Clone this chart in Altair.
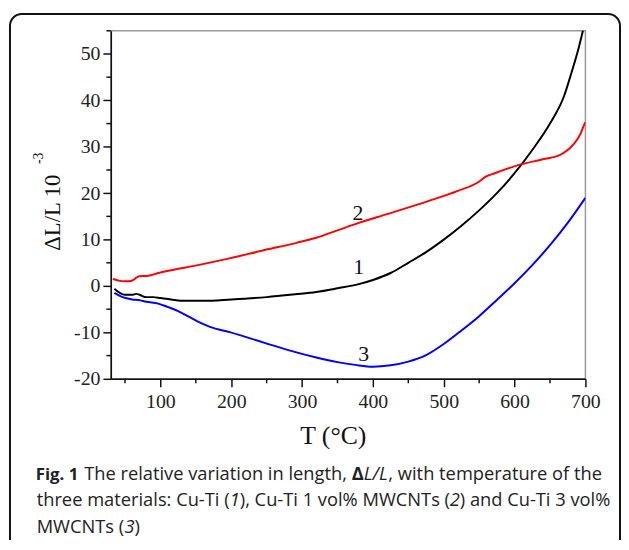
import altair as alt
import pandas as pd

# ---- data ----
T1 = [35, 40, 50, 60, 66, 72, 80, 90, 100, 115, 135, 160, 200, 250, 290, 320, 350, 380, 400, 425, 450, 475, 500, 525, 550, 575, 600, 625, 650, 670, 680, 690, 698]
V1 = [-0.6, -1.2, -1.9, -1.9, -1.7, -2.0, -2.4, -2.4, -2.6, -2.9, -3.2, -3.2, -2.9, -2.4, -1.8, -1.3, -0.5, 0.4, 1.3, 2.8, 5.0, 7.3, 10.0, 13.0, 16.3, 20.0, 24.3, 29.3, 35.0, 41.0, 45.8, 51.0, 56.0]

T2 = [33, 40, 45, 55, 62, 66, 70, 83, 97, 115, 153, 199, 246, 292, 320, 350, 380, 420, 478, 520, 548, 560, 572, 609, 640, 665, 683, 693, 697, 700]
V2 = [1.5, 1.2, 1.05, 1.0, 1.3, 1.8, 2.1, 2.2, 2.8, 3.4, 4.5, 6.0, 7.7, 9.3, 10.4, 12.0, 13.6, 15.5, 18.3, 20.5, 22.3, 23.6, 24.3, 26.2, 27.3, 28.3, 30.5, 32.8, 34.3, 35.3]

T3 = [35, 45, 51, 60, 69, 80, 97, 110, 125, 140, 153, 170, 199, 246, 292, 320, 350, 375, 400, 425, 450, 475, 500, 525, 550, 575, 600, 625, 650, 675, 700]
V3 = [-1.5, -2.3, -2.6, -2.9, -3.0, -3.4, -3.8, -4.5, -5.4, -6.6, -7.7, -8.8, -10.0, -12.2, -14.3, -15.4, -16.4, -17.0, -17.4, -17.1, -16.3, -14.9, -12.5, -9.6, -6.5, -3.0, 0.6, 4.5, 8.8, 13.6, 19.0]

SERIES = ["1", "2", "3"]
COLORS = ["#000000", "#ff0000", "#0000ff"]

LABEL_T = [380, 379, 387]
LABEL_V = [4.0, 15.8, -14.7]

X_MAJOR = [100, 200, 300, 400, 500, 600, 700]
X_MINOR = [50, 150, 250, 350, 450, 550, 650]
Y_MAJOR = [-20, -10, 0, 10, 20, 30, 40, 50]
Y_MINOR = [-15, -5, 5, 15, 25, 35, 45, 55]

CAPTION_LINES = [
    [("Fig. 1", "b"), ("The relative variation in length, ", "r"), ("Δ", "b"), ("L/L", "i"), (", with temperature of the", "r")],
    [("three materials: Cu-Ti (", "r"), ("1", "i"), ("), Cu-Ti 1 vol% MWCNTs (", "r"), ("2", "i"), (") and Cu-Ti 3 vol%", "r")],
    [("MWCNTs (", "r"), ("3", "i"), (")", "r")],
]

rows = []
for s, ts, vs in zip(SERIES, [T1, T2, T3], [V1, V2, V3]):
    for i, (t, v) in enumerate(zip(ts, vs)):
        rows.append({"T": t, "V": v, "s": s, "o": i})
df = pd.DataFrame(rows)
lab = pd.DataFrame({"T": LABEL_T, "V": LABEL_V, "s": SERIES})

xsc = alt.Scale(domain=[30, 700], nice=False, zero=False)
ysc = alt.Scale(domain=[-20, 55], nice=False, zero=False)

SERIF = "Liberation Serif"
SANS = "Open Sans"
AX = "#111"

xaxis = alt.Axis(values=X_MAJOR, title=None, grid=False, labelOverlap=False, labelFlush=False,
                 format="d", tickSize=8,
                 labelFont=SERIF, labelFontSize=20, labelColor="#222", labelPadding=5,
                 domainColor=AX, domainWidth=1.5, tickColor=AX, tickWidth=1.5)
yaxis = alt.Axis(values=Y_MAJOR, title=None, grid=False, labelOverlap=False, labelFlush=False,
                 labelExpr="'' + datum.value", tickSize=8,
                 labelFont=SERIF, labelFontSize=20, labelColor="#222", labelPadding=3,
                 domainColor=AX, domainWidth=1.5, tickColor=AX, tickWidth=1.5)

lines = alt.Chart(df).mark_line(strokeWidth=2, clip=True, interpolate="monotone").encode(
    x=alt.X("T:Q", scale=xsc, axis=xaxis),
    y=alt.Y("V:Q", scale=ysc, axis=yaxis),
    color=alt.Color("s:N", scale=alt.Scale(domain=SERIES, range=COLORS), legend=None),
    order="o:Q",
)

xminor = alt.Chart(pd.DataFrame({"T": X_MINOR})).mark_rule(color=AX, strokeWidth=1.5).encode(
    x=alt.X("T:Q", scale=xsc), y=alt.value(352), y2=alt.value(356.5)
)
yminor = alt.Chart(pd.DataFrame({"V": Y_MINOR})).mark_rule(color=AX, strokeWidth=1.5).encode(
    y=alt.Y("V:Q", scale=ysc), x=alt.value(-4.5), x2=alt.value(0)
)

nums = alt.Chart(lab).mark_text(font=SERIF, fontSize=22, color="#111", baseline="middle").encode(
    x=alt.X("T:Q", scale=xsc), y=alt.Y("V:Q", scale=ysc), text="s:N"
)

blank = alt.Data(values=[{"a": 1}])


def txt(text, x, y, size, font=SANS, weight="normal", style="normal", angle=0,
        align="left", baseline="alphabetic", color="#222"):
    return alt.Chart(blank).mark_text(
        text=text, font=font, fontSize=size, fontWeight=weight, fontStyle=style,
        angle=angle, align=align, baseline=baseline, color=color,
    ).encode(x=alt.value(x), y=alt.value(y))


# approximate Open Sans advance widths (units of 1/2048 em) for caption layout
ADV = {" ": 532, "!": 547, "%": 1640, "(": 600, ")": 600, ",": 500, "-": 659, ".": 545, "/": 752, ":": 545,
       "A": 1296, "B": 1327, "C": 1292, "D": 1493, "E": 1139, "F": 1057, "G": 1491, "H": 1511, "I": 571,
       "L": 1073, "M": 1849, "N": 1544, "O": 1595, "P": 1233, "R": 1266, "S": 1124, "T": 1139, "U": 1511,
       "V": 1198, "W": 1905, "a": 1139, "b": 1255, "c": 975, "d": 1255, "e": 1149, "f": 694, "g": 1122,
       "h": 1257, "i": 518, "j": 518, "k": 1075, "l": 518, "m": 1905, "n": 1257, "o": 1237, "p": 1255,
       "q": 1255, "r": 836, "s": 977, "t": 723, "u": 1257, "v": 1026, "w": 1593, "x": 1073, "y": 1028,
       "z": 977, "Δ": 1250}


def width(s, size, style):
    w = sum(ADV.get(c, 1171) for c in s) / 2048.0 * size
    if style == "b":
        w *= 1.08
    elif style == "i":
        w *= 0.95
    return w


titles = [
    txt("ΔL/L 10", -58, 184, 23, font=SERIF, angle=270, align="center", baseline="middle", color="#111"),
    txt("-3", -73, 129, 14, font=SERIF, angle=270, align="center", baseline="middle", color="#111"),
    txt("T (°C)", 225, 418, 26, font=SERIF, align="center", color="#111"),
]

CAP = 18.5
BOLD = 17
LINE_X = [-76, -75, -75]
LINE_Y = [454, 481, 508]
caption = []
for li, segs in enumerate(CAPTION_LINES):
    x = LINE_X[li]
    for k, (s, st) in enumerate(segs):
        if li == 0 and k == 1:
            x = -27  # text after the bold figure label
        size = BOLD if (st == "b" and s.startswith("Fig")) else CAP
        caption.append(txt(s, round(x, 1), LINE_Y[li], size,
                           weight="bold" if st == "b" else "normal",
                           style="italic" if st == "i" else "normal"))
        x += width(s, size, st)

frame = alt.Chart(blank).mark_rect(
    fill=None, fillOpacity=0, stroke="#111", strokeWidth=2, cornerRadius=12
).encode(x=alt.value(-102), x2=alt.value(515), y=alt.value(-17), y2=alt.value(530))

chart = alt.layer(frame, lines, xminor, yminor, nums, *titles, *caption).properties(
    width=480, height=352,
    padding={"left": 104, "top": 20, "right": 36, "bottom": 160},
    autosize=alt.AutoSizeParams(type="none"),
).configure_view(stroke="#9a9a9a", strokeWidth=1.5)

chart.save("out.html", embed_options={"renderer": "svg", "actions": False})
